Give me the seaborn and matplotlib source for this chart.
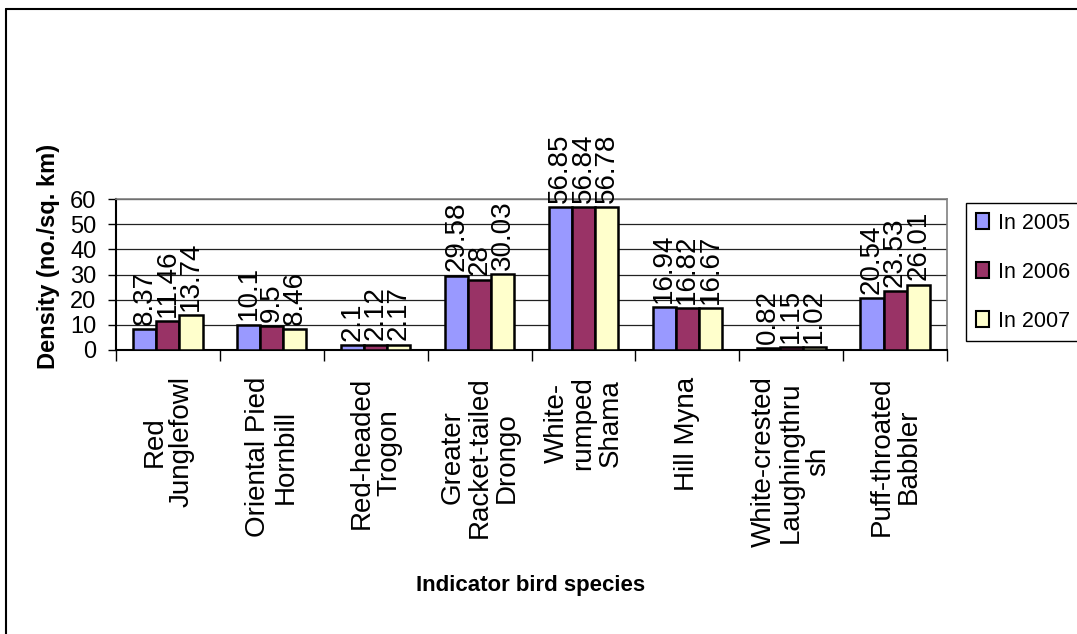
import matplotlib
matplotlib.use("Agg")
import matplotlib.pyplot as plt
import seaborn as sns
import pandas as pd
from matplotlib.lines import Line2D

species = ["Red\nJunglefowl", "Oriental Pied\nHornbill", "Red-headed\nTrogon",
           "Greater\nRacket-tailed\nDrongo", "White-\nrumped\nShama", "Hill Myna",
           "White-crested\nLaughingthru\nsh", "Puff-throated\nBabbler"]
years = ["In 2005", "In 2006", "In 2007"]
vals_2005 = [8.37, 10.1, 2.1, 29.58, 56.85, 16.94, 0.82, 20.54]
vals_2006 = [11.46, 9.5, 2.12, 28, 56.84, 16.82, 1.15, 23.53]
vals_2007 = [13.74, 8.46, 2.17, 30.03, 56.78, 16.67, 1.02, 26.01]
colors = ["#9999FF", "#993366", "#FFFFCC"]

rows = []
for yr, vals in zip(years, [vals_2005, vals_2006, vals_2007]):
    for sp, v in zip(species, vals):
        rows.append({"species": sp, "year": yr, "density": v})
df = pd.DataFrame(rows)

sns.set_style("white")
plt.rcParams["font.family"] = ["Liberation Sans", "DejaVu Sans"]
plt.rcParams["text.color"] = "black"
plt.rcParams["axes.labelcolor"] = "black"
plt.rcParams["xtick.color"] = "black"
plt.rcParams["ytick.color"] = "black"

W, H = 1077, 634
fig = plt.figure(figsize=(W / 100, H / 100), dpi=100)
ax = fig.add_axes([116 / W, 1 - 350 / H, (947 - 116) / W, (350 - 199) / H])

sns.barplot(data=df, x="species", y="density", hue="year", palette=colors,
            saturation=1, width=0.667, edgecolor="black", linewidth=1.8, ax=ax,
            errorbar=None, legend=False, zorder=3)

for cont in ax.containers:
    ax.bar_label(cont, fmt="{:g}", rotation=90, padding=3, fontsize=20,
                 color="black", clip_on=False)

ax.set_xlim(-0.5, len(species) - 0.5)
ax.set_ylim(0, 60)
ax.set_yticks(range(0, 61, 10))
ax.tick_params(axis="y", direction="out", length=6, width=1, pad=8, labelsize=17,
               left=True, labelcolor="black")
ax.yaxis.grid(True, color="#222222", linewidth=0.9, zorder=0)
ax.set_axisbelow(True)

# category boundary ticks and centered labels
ax.set_xticks([i - 0.5 for i in range(len(species) + 1)])
ax.set_xticklabels([])
ax.tick_params(axis="x", which="major", direction="out", length=8, width=1, bottom=True)
ax.set_xticks(range(len(species)), minor=True)
ax.set_xticklabels(species, minor=True, rotation=90, fontsize=20, color="black",
                   ha="center", va="top", linespacing=1.05, multialignment="center")
ax.tick_params(axis="x", which="minor", length=0, pad=19)
ax.set_xlabel("")
ax.set_ylabel("")

for s in ["left", "bottom"]:
    ax.spines[s].set_color("black")
    ax.spines[s].set_linewidth(1.5)
for s in ["top", "right"]:
    ax.spines[s].set_color("#808080")
    ax.spines[s].set_linewidth(1.2)

fig.text(49 / W, 1 - 256 / H, "Density (no./sq. km)", rotation=90, ha="center",
         va="center", fontsize=17, fontweight="bold", color="black")
fig.text(531 / W, 1 - 585 / H, "Indicator bird species", ha="center", va="center",
         fontsize=16, fontweight="bold", color="black")

handles = [plt.Rectangle((0, 0), 1, 1, facecolor=c, edgecolor="black", linewidth=1.5)
           for c in colors]
leg = fig.legend(handles, years, loc="upper left", bbox_to_anchor=(966 / W, 1 - 203 / H),
                 bbox_transform=fig.transFigure, borderaxespad=0, fontsize=15.5,
                 handlelength=0.6, handleheight=0.8, handletextpad=0.45,
                 labelspacing=1.3, borderpad=0.45, fancybox=False, framealpha=1)
leg.get_frame().set_edgecolor("black")
leg.get_frame().set_linewidth(1.0)

fig.add_artist(Line2D([6 / W, 1], [1 - 9 / H, 1 - 9 / H], color="black", linewidth=1.5,
                      transform=fig.transFigure))
fig.add_artist(Line2D([6 / W, 6 / W], [0, 1 - 9 / H], color="black", linewidth=1.5,
                      transform=fig.transFigure))

fig.savefig("out.png", dpi=100)
